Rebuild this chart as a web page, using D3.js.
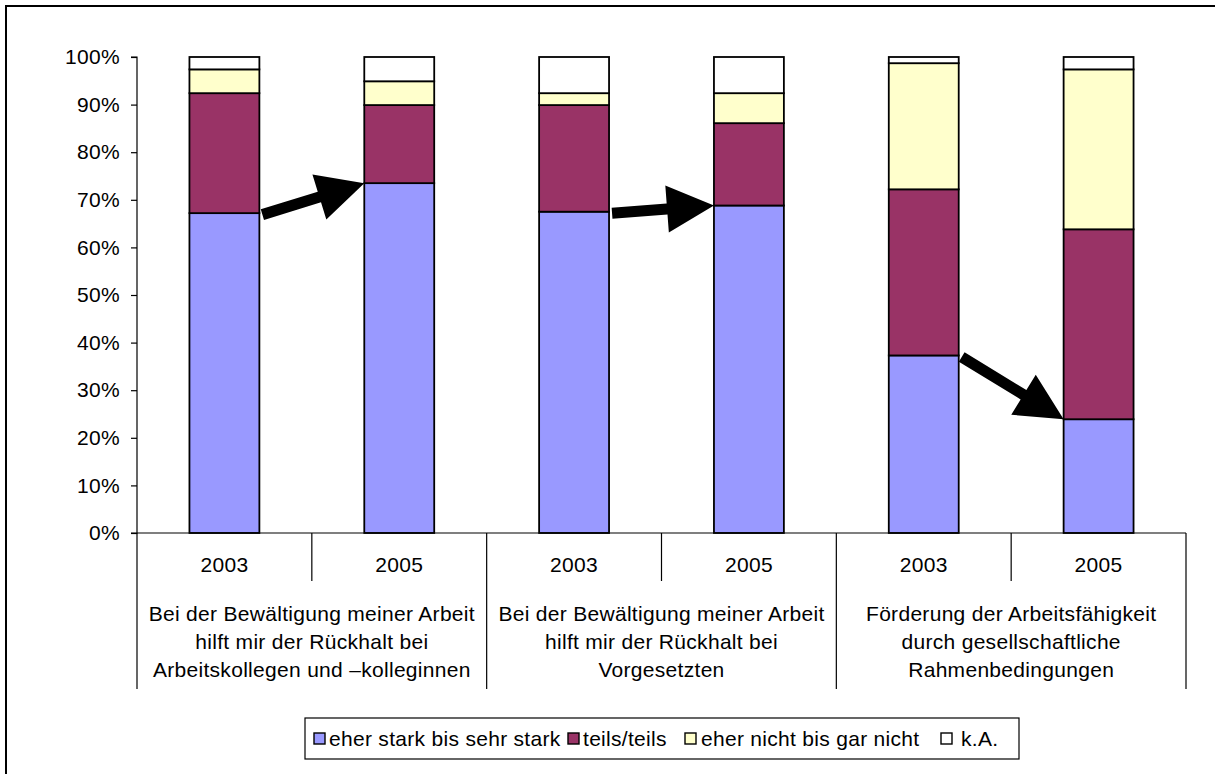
<!DOCTYPE html>
<html>
<head>
<meta charset="utf-8">
<script src="https://cdn.jsdelivr.net/npm/d3@7"></script>
<style>
  html, body { margin: 0; padding: 0; background: #fff; }
  svg { display: block; }
  text { font-family: "Liberation Sans", Arial, sans-serif; fill: #000; letter-spacing: 0.3px; }
</style>
</head>
<body>
<svg id="chart" width="1215" height="774"></svg>
<script>
// ---- data ----
const groups = [
  ["Bei der Bewältigung meiner Arbeit", "hilft mir der Rückhalt bei", "Arbeitskollegen und \u2013kolleginnen"],
  ["Bei der Bewältigung meiner Arbeit", "hilft mir der Rückhalt bei", "Vorgesetzten"],
  ["Förderung der Arbeitsfähigkeit", "durch gesellschaftliche", "Rahmenbedingungen"]
];
const years = ["2003", "2005", "2003", "2005", "2003", "2005"];
const seriesNames = ["eher stark bis sehr stark", "teils/teils", "eher nicht bis gar nicht", "k.A."];
const starkValues = [67.2, 73.5, 67.5, 68.8, 37.3, 23.9];
const teilsValues = [25.2, 16.4, 22.4, 17.3, 34.9, 39.9];
const nichtValues = [5.0, 5.0, 2.5, 6.3, 26.5, 33.6];
const kaValues    = [2.6, 5.1, 7.6, 7.6, 1.3, 2.6];
const yTicks = [0, 10, 20, 30, 40, 50, 60, 70, 80, 90, 100];
const arrows = [[0, 1], [2, 3], [4, 5]]; // from bar -> to bar (top of "eher stark")
const colors = ["#9999FF", "#993366", "#FFFFCC", "#FFFFFF"];

// ---- layout ----
const svg = d3.select("#chart");
const plotLeft = 137, plotRight = 1186, plotTop = 57, plotBottom = 533;
const fontSize = 21;

// frame
svg.append("rect").attr("x", 6).attr("y", 6).attr("width", 1300).attr("height", 900)
  .attr("fill", "none").attr("stroke", "#000").attr("stroke-width", 2);

const slots = years.map((d, i) => i);
const x = d3.scaleBand().domain(slots).range([plotLeft, plotRight]).paddingInner(0).paddingOuter(0);
const y = d3.scaleLinear().domain([0, 100]).range([plotBottom, plotTop]);
const barW = x.bandwidth() * 0.4;

// stack
const rows = slots.map(i => ({i, s0: starkValues[i], s1: teilsValues[i], s2: nichtValues[i], s3: kaValues[i]}));
const stacked = d3.stack().keys(["s0", "s1", "s2", "s3"])(rows);

const gBars = svg.append("g");
stacked.forEach((layer, k) => {
  gBars.selectAll(null).data(layer).enter().append("rect")
    .attr("x", d => x(d.data.i) + (x.bandwidth() - barW) / 2)
    .attr("y", d => y(d[1]))
    .attr("width", barW)
    .attr("height", d => y(d[0]) - y(d[1]))
    .attr("fill", colors[k])
    .attr("stroke", "#000")
    .attr("stroke-width", 1.8);
});

// y axis
const yAxis = d3.axisLeft(y).tickValues(yTicks).tickSize(6).tickPadding(11)
  .tickFormat(d => d + "%");
const gy = svg.append("g").attr("transform", `translate(${plotLeft},0)`).call(yAxis);
gy.select(".domain").attr("stroke", "#000").attr("stroke-width", 1.2).attr("d", `M-6,${plotTop}H0V${plotBottom}H-6`);
gy.selectAll(".tick line").attr("stroke", "#000").attr("stroke-width", 1.2);
gy.selectAll(".tick text").style("font-family", '"Liberation Sans", Arial, sans-serif')
  .style("font-size", fontSize + "px").attr("fill", "#000");

// category axis
const gx = svg.append("g");
gx.append("line").attr("x1", plotLeft).attr("x2", plotRight).attr("y1", plotBottom).attr("y2", plotBottom)
  .attr("stroke", "#000").attr("stroke-width", 1.2);
const sepPositions = d3.range(slots.length + 1);
gx.selectAll(null).data(sepPositions).enter().append("line")
  .attr("x1", d => plotLeft + d * x.step()).attr("x2", d => plotLeft + d * x.step())
  .attr("y1", plotBottom)
  .attr("y2", d => d % 2 === 0 ? 689 : 581)
  .attr("stroke", "#000").attr("stroke-width", 1.2);

gx.selectAll(null).data(years).enter().append("text")
  .attr("x", (d, i) => x(i) + x.bandwidth() / 2)
  .attr("y", 572)
  .attr("text-anchor", "middle")
  .style("font-size", fontSize + "px")
  .text(d => d);

groups.forEach((lines, g) => {
  const cx = (x(g * 2) + x(g * 2 + 1) + x.bandwidth()) / 2;
  lines.forEach((ln, j) => {
    gx.append("text").attr("x", cx).attr("y", 621 + j * 28)
      .attr("text-anchor", "middle").style("font-size", fontSize + "px").text(ln);
  });
});

// arrows
function arrowPath(x0, y0, x1, y1) {
  const dx = x1 - x0, dy = y1 - y0, L = Math.hypot(dx, dy);
  const ux = dx / L, uy = dy / L, nx = -uy, ny = ux;
  const sw = 5.5, hw = 23.5, hl = 47;
  const bx = x1 - ux * hl, by = y1 - uy * hl;
  const pts = [
    [x0 + nx * sw, y0 + ny * sw],
    [bx + nx * sw, by + ny * sw],
    [bx + nx * hw, by + ny * hw],
    [x1, y1],
    [bx - nx * hw, by - ny * hw],
    [bx - nx * sw, by - ny * sw],
    [x0 - nx * sw, y0 - ny * sw]
  ];
  return "M" + pts.map(p => p.join(",")).join("L") + "Z";
}
svg.append("g").selectAll(null).data(arrows).enter().append("path")
  .attr("d", ([a, b]) => {
    const x0 = x(a) + (x.bandwidth() + barW) / 2 + 3;
    const y0 = y(starkValues[a]) + 1.5;
    const x1 = x(b) + (x.bandwidth() - barW) / 2;
    const y1 = y(starkValues[b]);
    return arrowPath(x0, y0, x1, y1);
  })
  .attr("fill", "#000");

// legend
const lg = svg.append("g");
lg.append("rect").attr("x", 305).attr("y", 718).attr("width", 714).attr("height", 41)
  .attr("fill", "#fff").attr("stroke", "#000").attr("stroke-width", 1.2);
const legendX = [314, 568, 685, 941];
const legendTextX = [329, 583, 701, 961];
seriesNames.forEach((name, k) => {
  lg.append("rect").attr("x", legendX[k]).attr("y", 733).attr("width", 11).attr("height", 11)
    .attr("fill", colors[k]).attr("stroke", "#000").attr("stroke-width", 1.4);
  lg.append("text").attr("x", legendTextX[k]).attr("y", 746)
    .style("font-size", fontSize + "px").text(name);
});
</script>
</body>
</html>
